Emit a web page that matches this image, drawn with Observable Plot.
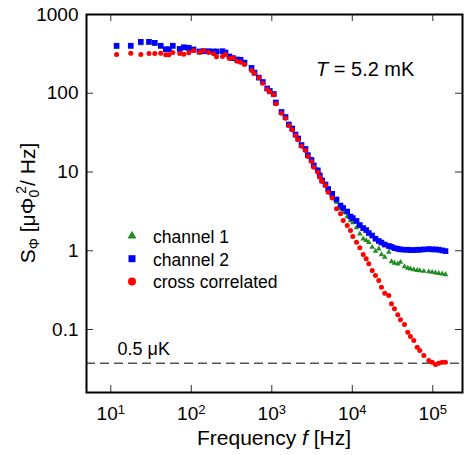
<!DOCTYPE html>
<html><head><meta charset="utf-8">
<script src="https://cdn.jsdelivr.net/npm/d3@7"></script>
<script src="https://cdn.jsdelivr.net/npm/@observablehq/plot@0.6"></script>
<style>
body{margin:0;background:#fff;}
#chart{width:464px;height:455px;}
</style></head><body><div id="chart"></div>
<script>
// ---- data ----
const freq = [11.8,17.7,23.6,29.8,35.2,41.7,48.2,52.8,58.9,71.8,
  80.7,93.1,106.5,126.5,141.8,165,190,205.6,244,266,
  298,332,372,409,458,560,610,690,773,877,
  944,1059,1121,1320,1480,1627,1792,1970,2128,2339,
  2622,2801,3113,3325,3727,3947,4227,4646,5020,5628,
  6363,7136,7709,8642,9497,10140,11280,12390,13660,14880,
  16030,17670,19420,21340,23050,25330,28410,30690,33430,36750,
  39700,44500,48920,52840,58070,64010,68960,77320,89190,98290,
  108000,118700,130900,143800];
const channel1 = [385,388,428,432,420,388,350,350,386,352,
  368,362,345,328,330,330,327,326,330,318,
  283,270,258,256,237,205,178,155,138,114,
  106,97,75.5,57.5,49.6,40,35.5,29.8,26.5,21.9,
  19.5,16.4,14.3,12.2,10.6,9.1,7.8,6.85,5.9,4.89,
  4.14,3.44,3.06,2.72,2.42,2.28,1.97,1.64,1.42,1.35,
  1.28,1.11,0.986,1.06,0.895,0.828,0.96,0.73,0.698,0.682,
  0.715,0.631,0.604,0.59,0.578,0.565,0.561,0.55,0.542,0.534,
  0.525,0.517,0.51,0.499];
const channel2 = [401,401,450,450,437,401,362,362,401,366,
  384,378,360,339,342,342,339,339,342,329,
  293,279,268,266,245,210,183,158,139,115,
  107,97.8,76.3,57.8,49.9,40.1,35.7,29.9,26.6,22.0,
  19.6,16.4,14.2,12.1,10.5,9.03,7.8,6.94,6.08,5.28,
  4.48,3.75,3.49,3.15,2.72,2.6,2.39,2.12,1.94,1.83,
  1.68,1.56,1.42,1.33,1.27,1.2,1.15,1.12,1.08,1.06,
  1.04,1.03,1.03,1.02,1.02,1.03,1.03,1.04,1.05,1.04,
  1.04,1.03,1.01,0.99];
const crossCorrelated = [310,323,310,320,320,323,308,308,329,320,
  313,327,349,332,349,329,317,290,293,310,
  276,282,255,248,232,195,180,157,134,112,
  104,95.5,73.5,55.8,48.2,38.9,34.4,29.1,25.6,21.3,
  18.8,15.7,13.6,11.5,9.94,8.59,7.57,6.74,5.54,4.68,
  3.41,2.94,2.42,2.09,1.81,1.52,1.28,1.09,0.895,0.79,
  0.682,0.561,0.485,0.419,0.344,0.289,0.27,0.212,0.183,0.154,
  0.133,0.116,0.0925,0.0815,0.0725,0.0596,0.0541,0.0468,0.0404,0.0384,
  0.036,0.0374,0.0385,0.0385];
const seriesNames = ["channel 1","channel 2","cross correlated"];
const seriesColors = ["#228b22","#0000ff","#ff0000"];
const noiseLevel = 0.0373;
const noiseLabel = "0.5 μK";
const xTicks = [1e1,1e2,1e3,1e4,1e5];
const xTickExponents = ["1","2","3","4","5"];
const yTicks = [0.1,1,10,100,1000];
const yTickLabels = ["0.1","1","10","100","1000"];
const xDomain = [4.99, 2.339e5];
const yDomain = [0.01585, 1000];

// ---- layout ----
const W = 464, H = 455, mL = 86, mR = 2, mT = 14, mB = 63;
const fw = W - mL - mR, fh = H - mT - mB, tk = 7;
const font = "'Liberation Sans', Arial, Helvetica, sans-serif";

const rows = (vals) => freq.map((f, i) => ({f, v: vals[i]}));

const plot = Plot.plot({
  width: W, height: H,
  marginLeft: mL, marginRight: mR, marginTop: mT, marginBottom: mB,
  style: {fontFamily: font, fontSize: "19px", color: "black", background: "white"},
  x: {type: "log", domain: xDomain},
  y: {type: "log", domain: yDomain},
  marks: [
    Plot.ruleY([noiseLevel], {stroke: "#555", strokeWidth: 1.3, strokeDasharray: "9,5"}),
    Plot.dot(rows(channel1), {x: "f", y: "v", symbol: "triangle", r: 2.1, fill: seriesColors[0], stroke: "none"}),
    Plot.dot(rows(channel2), {x: "f", y: "v", symbol: "square", r: 3.2, fill: seriesColors[1], stroke: "none"}),
    Plot.dot(rows(crossCorrelated), {x: "f", y: "v", symbol: "circle", r: 2.5, fill: seriesColors[2], stroke: "none"}),
    Plot.tickX(xTicks, {x: d => d, insetTop: fh - tk, stroke: "#333"}),
    Plot.tickX(xTicks, {x: d => d, insetBottom: fh - tk, stroke: "#333"}),
    Plot.tickY(yTicks, {y: d => d, insetRight: fw - tk, stroke: "#333"}),
    Plot.tickY(yTicks, {y: d => d, insetLeft: fw - tk, stroke: "#333"}),
    Plot.axisX(xTicks, {tickSize: 0, tickPadding: 14, tickFormat: () => "10", label: null, fontSize: 19}),
    Plot.axisY(yTicks, {tickSize: 0, tickPadding: 8, tickFormat: d => yTickLabels[yTicks.indexOf(d)], label: null, fontSize: 19}),
    Plot.frame({stroke: "black", strokeWidth: 2}),
    Plot.text([{t: noiseLabel, v: noiseLevel}], {y: "v", text: "t", frameAnchor: "left", dx: 31, dy: -14, textAnchor: "start", fontSize: 18})
  ]
});
document.getElementById("chart").appendChild(plot);

const svg = d3.select(plot);
// superscript exponents on x tick labels
svg.selectAll('g[aria-label="x-axis tick label"] text').each(function(d, i) {
  d3.select(this).append("tspan").attr("dy", "-0.45em").attr("font-size", "13px").text(xTickExponents[i]);
});

// x axis title
const xt = svg.append("text").attr("x", (mL + W - mR) / 2).attr("y", 445)
  .attr("text-anchor", "middle").attr("font-family", font).attr("font-size", 21).attr("fill", "black");
xt.append("tspan").text("Frequency ");
xt.append("tspan").attr("font-style", "italic").text("f");
xt.append("tspan").text(" [Hz]");

// y axis title
const yt = svg.append("text").attr("transform", `translate(35,${mT + fh / 2}) rotate(-90)`)
  .attr("text-anchor", "middle").attr("font-family", font).attr("font-size", 21).attr("fill", "black");
yt.append("tspan").text("S");
yt.append("tspan").attr("font-size", 14).attr("dy", 4).text("Φ");
yt.append("tspan").attr("dy", -4).text(" [μΦ");
yt.append("tspan").attr("font-size", 14).attr("dy", 4).text("0");
yt.append("tspan").attr("font-size", 14).attr("dx", -4).attr("dy", -13).text("2");
yt.append("tspan").attr("dy", 9).text("/ Hz]");

// temperature annotation
const tt = svg.append("text").attr("x", 316).attr("y", 76).attr("text-anchor", "start")
  .attr("font-family", font).attr("font-size", 20).attr("fill", "black");
tt.append("tspan").attr("font-style", "italic").text("T");
tt.append("tspan").text(" = 5.2 mK");

// legend
const lg = svg.append("g");
const symbols = [d3.symbol(d3.symbolTriangle, 35), d3.symbol(d3.symbolSquare, 49), d3.symbol(d3.symbolCircle, 50)];
seriesNames.forEach((name, i) => {
  const y = 243 + i * 22.7;
  lg.append("path").attr("d", symbols[i]()).attr("transform", `translate(132,${y - 7})`).attr("fill", seriesColors[i]);
  lg.append("text").attr("x", 153).attr("y", y).attr("text-anchor", "start").attr("font-family", font)
    .attr("font-size", 17.5).attr("fill", "black").text(name);
});
</script></body></html>
